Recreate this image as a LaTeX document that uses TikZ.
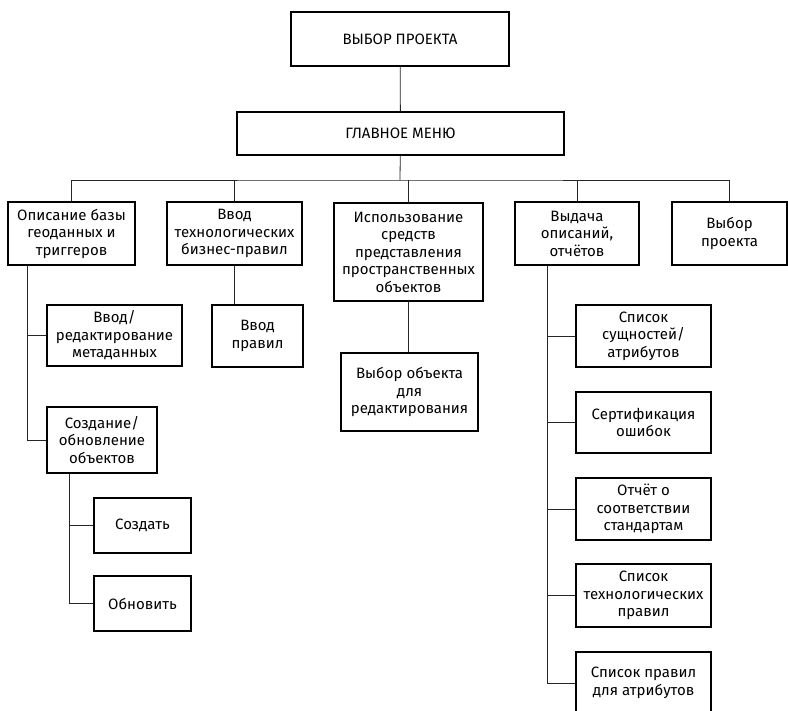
\documentclass[tikz,border=0pt]{standalone}
\usepackage{fontspec}
\setmainfont{Fira Sans}
\usepackage{tikz}
\usetikzlibrary{positioning}

\begin{document}
\begin{tikzpicture}[x=1pt,y=-1pt,
    box/.style={draw,line width=1.4pt,align=center,inner sep=1pt,font=\fontsize{15}{17.5}\selectfont},
    link/.style={line width=0.8pt,black!85}]
        \useasboundingbox (0,0) rectangle (788,711);
        \node[box,minimum width=218pt,minimum height=54pt] (proj) at (400,39) {ВЫБОР ПРОЕКТА};
        \node[box,minimum width=327pt,minimum height=43pt] (menu) at (400.5,133.5) {ГЛАВНОЕ МЕНЮ};
        \node[box,minimum width=127pt,minimum height=63pt] (geo) at (71.5,233.5) {Описание базы\\геоданных и\\триггеров};
        \node[box,minimum width=135pt,minimum height=63pt] (tech) at (234.5,233.5) {Ввод\\технологических\\бизнес-правил};
        \node[box,minimum width=149pt,minimum height=98pt] (spat) at (408.5,252) {Использование\\средств\\представления\\пространственных\\объектов};
        \node[box,minimum width=124pt,minimum height=63pt] (rep) at (577,233.5) {Выдача\\описаний,\\отчётов};
        \node[box,minimum width=115pt,minimum height=63pt] (sel) at (729.5,233.5) {Выбор\\проекта};
        \coordinate (bus) at (400,180);
        \draw[link] (proj) -- (menu);
        \draw[link] (menu) -- (bus);
        \draw[link] (geo.north) |- (bus) -| (sel.north);
        \draw[link] (tech.north) -- (tech.north |- bus);
        \draw[link] (spat.north) -- (spat.north |- bus);
        \draw[link] (rep.north) -- (rep.north |- bus);

        \node[box,minimum width=135pt,minimum height=61pt] (meta) at (114.5,335.5) {Ввод/\\редактирование\\метаданных};
        \node[box,minimum width=110pt,minimum height=66pt] (make) at (102,440) {Создание/\\обновление\\объектов};
        \node[box,minimum width=97pt,minimum height=55pt] (new) at (142.5,525.5) {Создать};
        \node[box,minimum width=97pt,minimum height=55pt] (upd) at (142.5,603.5) {Обновить};
        \draw[link] ([xshift=-44.5pt]geo.south) |- (meta.west);
        \draw[link] ([xshift=-44.5pt]geo.south) |- (make.west);
        \draw[link] ([xshift=-33pt]make.south) |- (new.west);
        \draw[link] ([xshift=-33pt]make.south) |- (upd.west);

        \node[box,minimum width=91pt,minimum height=62pt] (rules) at (257.5,336) {Ввод\\правил};
        \draw[link] (tech.south) -- (tech.south |- rules.north);

        \node[box,minimum width=137pt,minimum height=78pt] (edit) at (409.5,392) {Выбор объекта\\для\\редактирования};
        \draw[link] (spat.south) -- (spat.south |- edit.north);

        \node[box,minimum width=135pt,minimum height=62pt] (ent) at (643.5,336) {Список\\сущностей/\\атрибутов};
        \node[box,minimum width=135pt,minimum height=61pt] (err) at (643.5,422.5) {Сертификация\\ошибок};
        \node[box,minimum width=135pt,minimum height=62pt] (std) at (643.5,509) {Отчёт о\\соответствии\\стандартам};
        \node[box,minimum width=135pt,minimum height=63pt] (trl) at (643.5,595.5) {Список\\технологических\\правил};
        \node[box,minimum width=135pt,minimum height=62pt] (atr) at (643.5,683) {Список правил\\для атрибутов};
        \foreach \n in {ent,err,std,trl,atr}
            \draw[link] ([xshift=-30pt]rep.south) |- (\n.west);
      \end{tikzpicture}
\end{document}
